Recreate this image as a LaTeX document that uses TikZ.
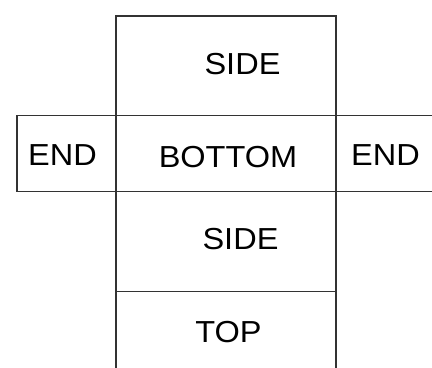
\documentclass[tikz,border=0pt]{standalone}
\usepackage{fontspec}
\setmainfont{Liberation Sans}
\begin{document}
\begin{tikzpicture}[x=1bp,y=-1bp,
  panel/.style={draw=black!80,line width=1.2bp},
  lbl/.style={font=\fontsize{30.5}{31}\selectfont,xscale=1.07,inner sep=0pt,anchor=center}]
\useasboundingbox (0,0) rectangle (432,368);
\clip (0,0) rectangle (432,368);
\fill[white] (0,0) rectangle (432,368);
% panels
\draw[panel] (116,16) rectangle (336,115.5);
\draw[panel] (17,115.5) rectangle (116,191.5);
\draw[panel] (116,115.5) rectangle (336,191.5);
\draw[panel] (336,115.5) rectangle (445,191.5);
\draw[panel] (116,191.5) rectangle (336,291.7);
\draw[panel] (116,291.7) rectangle (336,380);
% labels
\node[lbl] (side1) at (242.5,64) {SIDE};
\node[lbl] (endl) at (62.5,155.5) {END};
\node[lbl] (bottom) at (228,157) {BOTTOM};
\node[lbl] (endr) at (385.5,155.5) {END};
\node[lbl] (side2) at (240.5,239.5) {SIDE};
\node[lbl] (top) at (228.5,332) {TOP};
\end{tikzpicture}
\end{document}
